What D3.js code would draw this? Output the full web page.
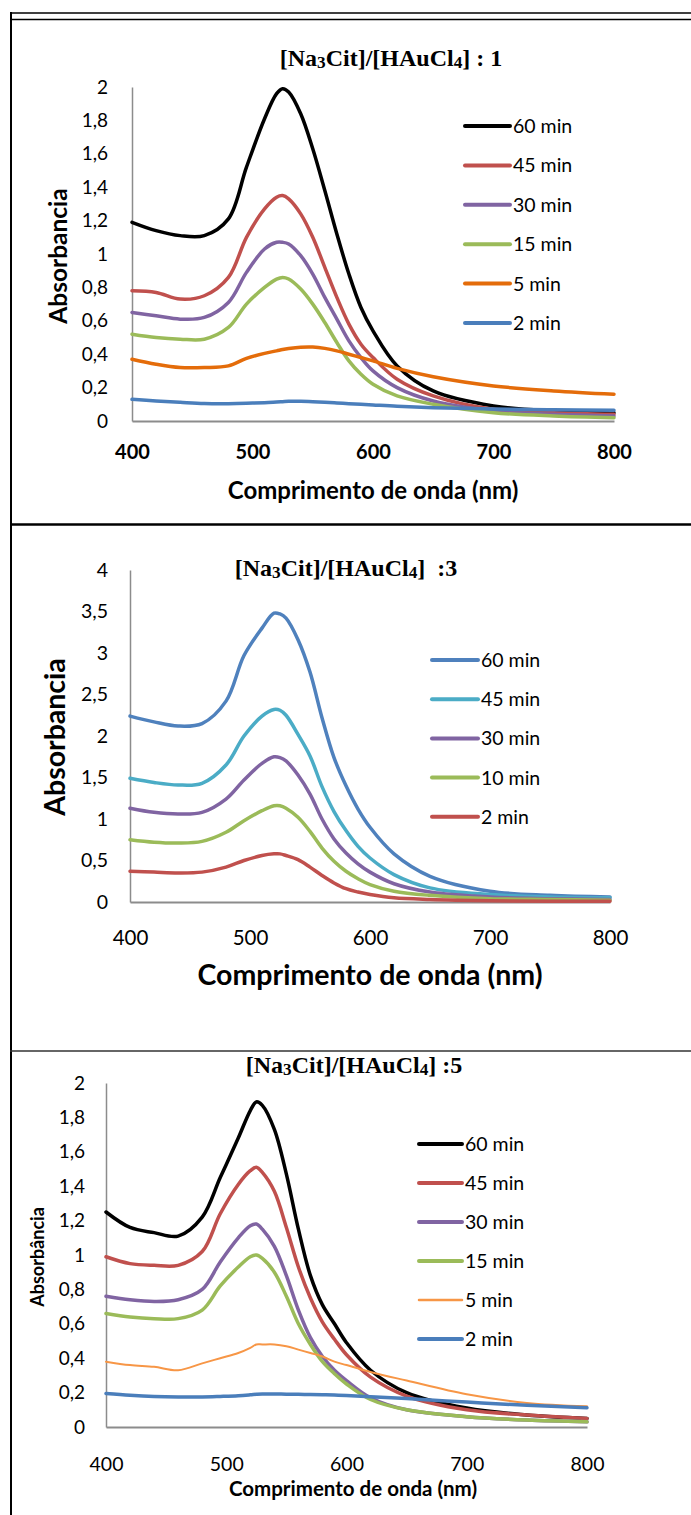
<!DOCTYPE html>
<html>
<head>
<meta charset="utf-8">
<script src="https://cdn.jsdelivr.net/npm/d3@7"></script>
<style>
  body { margin: 0; background: #fff; }
  svg text { font-family: Lato, "Open Sans", sans-serif; fill: #000; }
</style>
</head>
<body>
<svg id="chart" width="691" height="1515"></svg>
<script>
// wavelength grid (nm), shared by all three spectra sets
const waves = [400, 420, 440, 460, 480, 495, 510, 520, 525, 530, 540, 550, 560, 570, 580, 590, 600, 620, 650, 700, 750, 800]

// ratio 1
const r1Names = ['60 min', '45 min', '30 min', '15 min', '5 min', '2 min']
const r1_60 = [1.19, 1.14, 1.11, 1.11, 1.21, 1.52, 1.81, 1.96, 1.99, 1.97, 1.84, 1.63, 1.38, 1.12, 0.88, 0.68, 0.54, 0.33, 0.18, 0.09, 0.06, 0.05]
const r1_45 = [0.78, 0.77, 0.73, 0.75, 0.86, 1.10, 1.27, 1.34, 1.35, 1.33, 1.24, 1.10, 0.92, 0.74, 0.58, 0.46, 0.38, 0.25, 0.15, 0.07, 0.05, 0.04]
const r1_30 = [0.65, 0.63, 0.61, 0.62, 0.71, 0.89, 1.03, 1.07, 1.07, 1.06, 0.99, 0.88, 0.74, 0.61, 0.48, 0.38, 0.30, 0.20, 0.12, 0.06, 0.04, 0.03]
const r1_15 = [0.52, 0.50, 0.49, 0.49, 0.56, 0.70, 0.80, 0.85, 0.86, 0.85, 0.79, 0.70, 0.59, 0.47, 0.36, 0.28, 0.22, 0.15, 0.10, 0.05, 0.03, 0.02]
const r1_5 = [0.37, 0.34, 0.32, 0.32, 0.33, 0.375, 0.405, 0.42, 0.428, 0.434, 0.442, 0.443, 0.435, 0.42, 0.40, 0.38, 0.36, 0.315, 0.265, 0.21, 0.18, 0.16]
const r1_2 = [0.13, 0.12, 0.112, 0.105, 0.104, 0.106, 0.11, 0.114, 0.116, 0.118, 0.118, 0.115, 0.112, 0.108, 0.104, 0.10, 0.096, 0.088, 0.08, 0.072, 0.067, 0.065]

// ratio 3
const r3Names = ['60 min', '45 min', '30 min', '10 min', '2 min']
const r3_60 = [2.24, 2.17, 2.12, 2.15, 2.42, 2.97, 3.30, 3.48, 3.47, 3.42, 3.16, 2.77, 2.22, 1.74, 1.40, 1.12, 0.90, 0.58, 0.31, 0.13, 0.08, 0.06]
const r3_45 = [1.49, 1.44, 1.41, 1.43, 1.65, 2.00, 2.24, 2.32, 2.31, 2.25, 2.02, 1.76, 1.39, 1.09, 0.86, 0.67, 0.53, 0.33, 0.17, 0.09, 0.06, 0.05]
const r3_30 = [1.13, 1.08, 1.06, 1.08, 1.24, 1.47, 1.67, 1.75, 1.74, 1.70, 1.53, 1.30, 1.00, 0.76, 0.59, 0.46, 0.36, 0.22, 0.12, 0.06, 0.04, 0.03]
const r3_10 = [0.75, 0.72, 0.71, 0.73, 0.84, 0.98, 1.10, 1.16, 1.16, 1.13, 1.02, 0.85, 0.65, 0.49, 0.37, 0.28, 0.21, 0.13, 0.08, 0.04, 0.03, 0.02]
const r3_2 = [0.37, 0.36, 0.35, 0.36, 0.42, 0.50, 0.56, 0.58, 0.58, 0.56, 0.51, 0.42, 0.32, 0.23, 0.16, 0.12, 0.09, 0.05, 0.03, 0.015, 0.01, 0.01]

// ratio 5
const r5Names = ['60 min', '45 min', '30 min', '15 min', '5 min', '2 min']
const r5_60 = [1.25, 1.16, 1.13, 1.11, 1.22, 1.45, 1.68, 1.84, 1.89, 1.87, 1.73, 1.47, 1.15, 0.88, 0.71, 0.60, 0.49, 0.33, 0.20, 0.11, 0.07, 0.05]
const r5_45 = [0.99, 0.95, 0.94, 0.94, 1.02, 1.24, 1.41, 1.49, 1.51, 1.48, 1.37, 1.16, 0.93, 0.75, 0.61, 0.51, 0.42, 0.29, 0.18, 0.10, 0.07, 0.05]
const r5_30 = [0.76, 0.74, 0.73, 0.74, 0.80, 0.96, 1.10, 1.17, 1.18, 1.15, 1.05, 0.88, 0.68, 0.52, 0.41, 0.33, 0.27, 0.17, 0.10, 0.06, 0.04, 0.03]
const r5_15 = [0.66, 0.64, 0.63, 0.63, 0.68, 0.82, 0.93, 0.99, 1.00, 0.98, 0.90, 0.76, 0.60, 0.48, 0.38, 0.31, 0.25, 0.16, 0.10, 0.06, 0.04, 0.03]
const r5_5 = [0.38, 0.36, 0.35, 0.33, 0.37, 0.40, 0.43, 0.46, 0.48, 0.48, 0.48, 0.47, 0.45, 0.43, 0.41, 0.38, 0.36, 0.32, 0.27, 0.19, 0.14, 0.12]
const r5_2 = [0.195, 0.185, 0.178, 0.175, 0.175, 0.178, 0.182, 0.187, 0.19, 0.192, 0.192, 0.191, 0.19, 0.189, 0.188, 0.186, 0.183, 0.176, 0.165, 0.145, 0.126, 0.112]

const xTicks = [400, 500, 600, 700, 800]
const yTicks2 = [0, 0.2, 0.4, 0.6, 0.8, 1, 1.2, 1.4, 1.6, 1.8, 2]
const yTicks4 = [0, 0.5, 1, 1.5, 2, 2.5, 3, 3.5, 4]

const comma = d3.formatLocale({ decimal: ',', thousands: '.', grouping: [3], currency: ['', ''] }).format('~g')

let svg = d3.select('#chart')

// table frame
svg.append('line').attr('x1', 11).attr('x2', 11).attr('y1', 12).attr('y2', 1515).attr('stroke', '#000').attr('stroke-width', 2)
svg.append('line').attr('x1', 10).attr('x2', 691).attr('y1', 13).attr('y2', 13).attr('stroke', '#000').attr('stroke-width', 1.5)
svg.append('line').attr('x1', 10).attr('x2', 691).attr('y1', 19.5).attr('y2', 19.5).attr('stroke', '#000').attr('stroke-width', 1.5)
svg.append('line').attr('x1', 10).attr('x2', 691).attr('y1', 524.5).attr('y2', 524.5).attr('stroke', '#000').attr('stroke-width', 2.5)
svg.append('line').attr('x1', 10).attr('x2', 691).attr('y1', 1051).attr('y2', 1051).attr('stroke', '#333').attr('stroke-width', 1.5)

function title(g, t, ratio) {
  let txt = g.append('text')
    .attr('x', t.x).attr('y', t.y)
    .attr('text-anchor', 'middle')
    .style('font-family', '"Liberation Serif", serif')
    .style('font-weight', 'bold')
    .style('font-size', t.size + 'px')
    .style('white-space', 'pre')
  txt.append('tspan').text('[Na')
  txt.append('tspan').text('3').style('font-size', '0.72em').attr('dy', '0.12em')
  txt.append('tspan').text('Cit]/[HAuCl').attr('dy', '-0.09em')
  txt.append('tspan').text('4').style('font-size', '0.72em').attr('dy', '0.12em')
  txt.append('tspan').text(']' + ratio).attr('dy', '-0.09em')
}

function panel(o) {
  let g = svg.append('g')
  let x = d3.scaleLinear().domain([400, 800]).range([o.left, o.right])
  let y = d3.scaleLinear().domain([0, o.yMax]).range([o.bottom, o.top])

  let yAxis = g.append('g')
    .attr('transform', `translate(${o.left},0)`)
    .call(d3.axisLeft(y).tickValues(o.yTicks).tickSize(0).tickPadding(o.yPad).tickFormat(comma))
  yAxis.selectAll('text').style('font-size', o.yFont + 'px').attr('fill', '#000')
  yAxis.select('.domain').attr('stroke', '#8c8c8c').attr('stroke-width', 1.5)

  let xAxis = g.append('g')
    .attr('transform', `translate(0,${o.bottom})`)
    .call(d3.axisBottom(x).tickValues(xTicks).tickSize(0).tickPadding(o.xPad).tickFormat(d3.format('d')))
  xAxis.selectAll('text').style('font-size', o.xFont + 'px').style('font-weight', o.xBold ? 'bold' : 'normal').attr('fill', '#000')
  xAxis.select('.domain').attr('stroke', '#8c8c8c').attr('stroke-width', 2)

  let line = d3.line().x((d, i) => x(waves[i])).y(d => y(d)).curve(d3.curveCatmullRom.alpha(0.5))

  g.selectAll('path.spec')
    .data(o.series)
    .enter().append('path')
      .attr('class', 'spec')
      .attr('d', d => line(d))
      .attr('fill', 'none')
      .attr('stroke', (d, i) => o.colors[i])
      .attr('stroke-width', (d, i) => o.widths[i])
      .attr('stroke-linejoin', 'round')
      .attr('stroke-linecap', 'round')

  let leg = g.selectAll('g.leg')
    .data(o.names)
    .enter().append('g')
      .attr('class', 'leg')
      .attr('transform', (d, i) => `translate(0,${o.legTop + i * o.legStep})`)
  leg.append('line')
    .attr('x1', o.legX).attr('x2', o.legX + o.legLen)
    .attr('stroke', (d, i) => o.colors[i])
    .attr('stroke-width', (d, i) => o.widths[i] + 0.5)
    .attr('stroke-linecap', 'round')
  leg.append('text')
    .attr('x', o.legX + o.legLen + 3)
    .attr('dy', '0.36em')
    .style('font-size', o.legFont + 'px')
    .text(d => d)

  g.append('text')
    .attr('x', o.xTitle[0]).attr('y', o.xTitle[1])
    .attr('text-anchor', 'middle').attr('dy', '0.36em')
    .style('font-weight', 'bold').style('font-size', o.xTitle[2] + 'px')
    .text('Comprimento de onda (nm)')
  g.append('text')
    .attr('transform', `translate(${o.yTitle[0]},${o.yTitle[1]}) rotate(-90)`)
    .attr('text-anchor', 'middle').attr('dy', '0.36em')
    .style('font-weight', 'bold').style('font-size', o.yTitle[2] + 'px')
    .text(o.yLabel)

  title(g, o.title, o.ratio)
}

panel({
  left: 132, right: 614, top: 87, bottom: 421, yMax: 2, yTicks: yTicks2,
  yPad: 24, yFont: 19, xPad: 24, xFont: 20, xBold: true,
  series: [r1_60, r1_45, r1_30, r1_15, r1_5, r1_2], names: r1Names,
  colors: ['#000000', '#c0504d', '#8064a2', '#9bbb59', '#e46c0a', '#4a7ebb'],
  widths: [3.5, 3.5, 3.5, 3.5, 3.5, 3.5],
  legX: 465, legLen: 45, legTop: 126, legStep: 39.4, legFont: 19.5,
  xTitle: [373, 490, 24], yTitle: [58, 256, 24.5], yLabel: 'Absorbancia',
  title: { x: 391, y: 66, size: 24 }, ratio: ' : 1'
})

panel({
  left: 130, right: 610, top: 570, bottom: 902, yMax: 4, yTicks: yTicks4,
  yPad: 22, yFont: 19.5, xPad: 28, xFont: 20.5, xBold: false,
  series: [r3_60, r3_45, r3_30, r3_10, r3_2], names: r3Names,
  colors: ['#4f81bd', '#4bacc6', '#8064a2', '#9bbb59', '#c0504d'],
  widths: [3.5, 3.5, 3.5, 3.5, 3.5],
  legX: 432, legLen: 46, legTop: 660, legStep: 39.2, legFont: 19.5,
  xTitle: [370, 975, 28.5], yTitle: [55, 737, 28.5], yLabel: 'Absorbancia',
  title: { x: 346, y: 576, size: 24 }, ratio: '  :3'
})

panel({
  left: 106, right: 587, top: 1083, bottom: 1427, yMax: 2, yTicks: yTicks2,
  yPad: 21, yFont: 19, xPad: 30, xFont: 19.5, xBold: false,
  series: [r5_60, r5_45, r5_30, r5_15, r5_5, r5_2], names: r5Names,
  colors: ['#000000', '#c0504d', '#8064a2', '#9bbb59', '#f79646', '#4a7ebb'],
  widths: [3.5, 3.5, 3.5, 3.5, 2, 3.5],
  legX: 419, legLen: 43, legTop: 1144, legStep: 39, legFont: 19.5,
  xTitle: [353, 1489, 20.5], yTitle: [38, 1257, 18], yLabel: 'Absorbância',
  title: { x: 354, y: 1073, size: 24 }, ratio: ' :5'
})
</script>
</body>
</html>
